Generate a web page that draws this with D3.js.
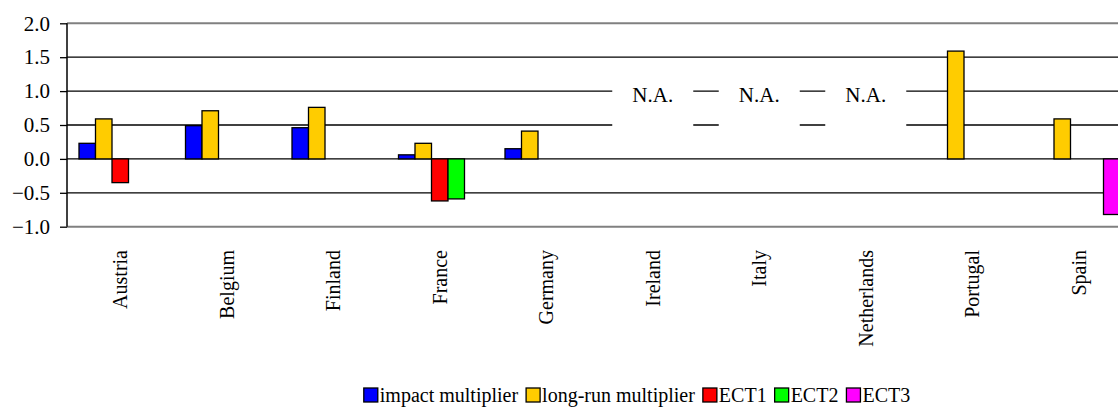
<!DOCTYPE html>
<html><head><meta charset="utf-8">
<script src="https://cdn.jsdelivr.net/npm/d3@7"></script>
<style>
html,body{margin:0;padding:0;background:#fff;}
</style></head>
<body><svg id="chart" width="1118" height="412"></svg>
<script>
const categories = ["Austria","Belgium","Finland","France","Germany","Ireland","Italy","Netherlands","Portugal","Spain"];
const seriesNames = ["impact multiplier","long-run multiplier","ECT1","ECT2","ECT3"];
const impactMultiplier = [0.23, 0.49, 0.46, 0.06, 0.15, null, null, null, null, null];
const longRunMultiplier = [0.59, 0.71, 0.76, 0.23, 0.41, null, null, null, 1.59, 0.59];
const ect1 = [-0.35, null, null, -0.62, null, null, null, null, null, null];
const ect2 = [null, null, null, -0.59, null, null, null, null, null, null];
const ect3 = [null, null, null, null, null, null, null, null, null, -0.82];
const naCategories = ["Ireland","Italy","Netherlands"];
const yTicks = [-1.0, -0.5, 0.0, 0.5, 1.0, 1.5, 2.0];
const colors = ["#0000FF","#FFCC00","#FF0000","#00FF00","#FF00FF"];

const FONT = "Liberation Serif, Times New Roman, Times, Tinos, Noto Serif, DejaVu Serif, FreeSerif, Nimbus Roman, serif";
const seriesValues = [impactMultiplier, longRunMultiplier, ect1, ect2, ect3];
const svg = d3.select("#chart").attr("font-family", FONT);
const pLeft = 67, pRight = 1132, pTop = 23.3, pBottom = 226.7;

const x = d3.scaleBand().domain(categories).range([pLeft, pRight]).padding(0);
const xs = d3.scaleBand().domain(seriesNames).range([0, x.bandwidth()]).paddingInner(0).paddingOuter(0.727);
const y = d3.scaleLinear().domain([-1, 2]).range([pBottom, pTop]);

// gridlines
svg.append("g").selectAll("line").data(yTicks).join("line")
  .attr("x1", pLeft).attr("x2", pRight)
  .attr("y1", d => y(d)).attr("y2", d => y(d))
  .attr("stroke", d => (d === 2 || d === -1) ? "#808080" : "#000")
  .attr("stroke-width", d => (d === 2 || d === -1) ? 2 : 1.3);

// N.A. boxes (white background masking gridlines)
const naG = svg.append("g");
naG.selectAll("rect").data(naCategories).join("rect")
  .attr("x", d => x(d) + x.bandwidth()/2 - 40.5)
  .attr("width", 81)
  .attr("y", y(1.3)).attr("height", y(0.4) - y(1.3))
  .attr("fill", "#fff");
naG.selectAll("text").data(naCategories).join("text")
  .attr("x", d => x(d) + x.bandwidth()/2)
  .attr("y", y(1.0) + 11)
  .attr("text-anchor", "middle")
  .attr("font-family", FONT)
  .attr("font-size", 21)
  .text("N.A.");

// bars
const barData = [];
categories.forEach((c, i) => {
  seriesNames.forEach((s, j) => {
    const v = seriesValues[j][i];
    if (v !== null) barData.push({c, s, v, color: colors[j]});
  });
});
svg.append("g").selectAll("rect").data(barData).join("rect")
  .attr("x", d => x(d.c) + xs(d.s))
  .attr("width", xs.bandwidth())
  .attr("y", d => y(Math.max(0, d.v)))
  .attr("height", d => Math.abs(y(d.v) - y(0)))
  .attr("fill", d => d.color)
  .attr("stroke", "#000").attr("stroke-width", 1.3);

// y axis
const yAxis = svg.append("g").attr("transform", `translate(${pLeft},0)`)
  .call(d3.axisLeft(y).tickValues(yTicks).tickFormat(d3.format(".1f")).tickSize(7).tickPadding(10));
yAxis.attr("font-family", FONT);
yAxis.select(".domain").attr("stroke", "#000").attr("stroke-width", 1.5).attr("d", `M0,${pTop}V${pBottom}`);
yAxis.selectAll(".tick line").attr("stroke", "#000").attr("stroke-width", 1.3);
yAxis.selectAll(".tick text").attr("font-size", 21).attr("font-family", FONT).attr("fill", "#000");

// category labels
svg.append("g").selectAll("text").data(categories).join("text")
  .attr("transform", d => `translate(${x(d) + x.bandwidth()/2},250) rotate(-90)`)
  .attr("text-anchor", "end")
  .attr("dy", "0.35em")
  .attr("font-family", FONT)
  .attr("font-size", 20)
  .text(d => d);

// legend
const legend = svg.append("g");
let cx = 0;
seriesNames.forEach((s, j) => {
  const g = legend.append("g").attr("transform", `translate(${cx},0)`);
  g.append("rect").attr("x", 0).attr("y", -7).attr("width", 14).attr("height", 14)
    .attr("fill", colors[j]).attr("stroke", "#000").attr("stroke-width", 1.3);
  const t = g.append("text").attr("x", 16).attr("y", 0).attr("dy", "0.35em")
    .attr("font-family", FONT).attr("font-size", 20).text(s);
  cx += 16 + t.node().getComputedTextLength() + 8;
});
const legW = cx - 8;
legend.attr("transform", `translate(${637 - legW/2},395)`);
</script>
</body></html>
